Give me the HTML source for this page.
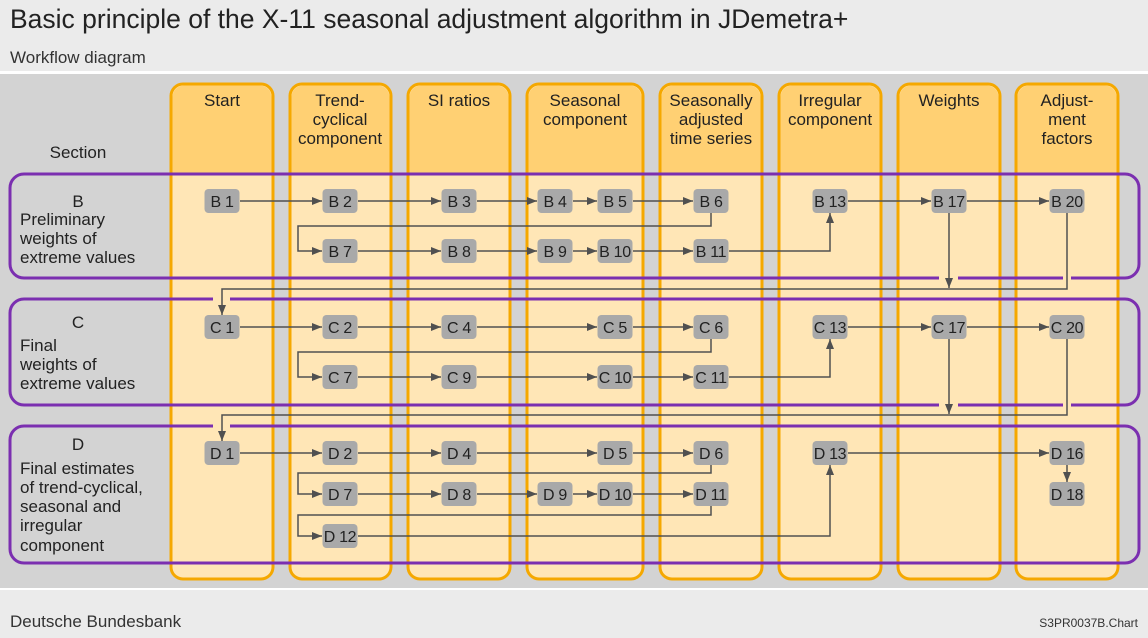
<!DOCTYPE html>
<html><head><meta charset="utf-8"><style>
body{margin:0;background:#ebebeb;}
svg{display:block;font-family:"Liberation Sans",sans-serif;}
</style></head><body>
<svg width="1148" height="638" viewBox="0 0 1148 638" xmlns="http://www.w3.org/2000/svg">
<defs>
<marker id="a" markerWidth="11" markerHeight="9" refX="10" refY="4" orient="auto" markerUnits="userSpaceOnUse"><path d="M0,0 L10,4 L0,8 z" fill="#505050"/></marker>
</defs>
<rect x="0" y="0" width="1148" height="638" fill="#ebebeb"/>
<text x="10" y="28" font-size="26.5" fill="#222">Basic principle of the X-11 seasonal adjustment algorithm in JDemetra+</text>
<text x="10" y="63" font-size="17" fill="#333">Workflow diagram</text>
<rect x="0" y="71" width="1148" height="3" fill="#fff"/>
<rect x="0" y="74" width="1148" height="514" fill="#d3d3d3"/>
<rect x="0" y="588" width="1148" height="2" fill="#fff"/>
<text x="10" y="627" font-size="17" fill="#333">Deutsche Bundesbank</text>
<text x="1138" y="627" font-size="12" fill="#333" text-anchor="end">S3PR0037B.Chart</text>

<g stroke="#f5a800" stroke-width="3">
<g fill="#ffe6b6">
<rect x="171" y="84" width="102" height="495" rx="12"/>
<rect x="290" y="84" width="101" height="495" rx="12"/>
<rect x="408" y="84" width="102" height="495" rx="12"/>
<rect x="527" y="84" width="116" height="495" rx="12"/>
<rect x="660" y="84" width="102" height="495" rx="12"/>
<rect x="779" y="84" width="102" height="495" rx="12"/>
<rect x="898" y="84" width="102" height="495" rx="12"/>
<rect x="1016" y="84" width="102" height="495" rx="12"/>
</g>
</g>
<g fill="#ffd073">
<path d="M172.5,174 V97 a11.5,11.5 0 0 1 11.5,-11.5 H260 a11.5,11.5 0 0 1 11.5,11.5 V174z"/>
<path d="M291.5,174 V97 a11.5,11.5 0 0 1 11.5,-11.5 H378 a11.5,11.5 0 0 1 11.5,11.5 V174z"/>
<path d="M409.5,174 V97 a11.5,11.5 0 0 1 11.5,-11.5 H497 a11.5,11.5 0 0 1 11.5,11.5 V174z"/>
<path d="M528.5,174 V97 a11.5,11.5 0 0 1 11.5,-11.5 H630 a11.5,11.5 0 0 1 11.5,11.5 V174z"/>
<path d="M661.5,174 V97 a11.5,11.5 0 0 1 11.5,-11.5 H749 a11.5,11.5 0 0 1 11.5,11.5 V174z"/>
<path d="M780.5,174 V97 a11.5,11.5 0 0 1 11.5,-11.5 H868 a11.5,11.5 0 0 1 11.5,11.5 V174z"/>
<path d="M899.5,174 V97 a11.5,11.5 0 0 1 11.5,-11.5 H987 a11.5,11.5 0 0 1 11.5,11.5 V174z"/>
<path d="M1017.5,174 V97 a11.5,11.5 0 0 1 11.5,-11.5 H1105 a11.5,11.5 0 0 1 11.5,11.5 V174z"/>
</g>

<g font-size="17" fill="#222" text-anchor="middle">
<text x="222" y="106">Start</text>
<text x="340" y="106">Trend-</text><text x="340" y="125">cyclical</text><text x="340" y="144">component</text>
<text x="459" y="106">SI ratios</text>
<text x="585" y="106">Seasonal</text><text x="585" y="125">component</text>
<text x="711" y="106">Seasonally</text><text x="711" y="125">adjusted</text><text x="711" y="144">time series</text>
<text x="830" y="106">Irregular</text><text x="830" y="125">component</text>
<text x="949" y="106">Weights</text>
<text x="1067" y="106">Adjust-</text><text x="1067" y="125">ment</text><text x="1067" y="144">factors</text>
<text x="78" y="158">Section</text>
<text x="78" y="207">B</text>
<text x="78" y="328">C</text>
<text x="78" y="450">D</text>
</g>
<g font-size="17" fill="#222">
<text x="20" y="225">Preliminary</text><text x="20" y="244">weights of</text><text x="20" y="263">extreme values</text>
<text x="20" y="351">Final</text><text x="20" y="370">weights of</text><text x="20" y="389">extreme values</text>
<text x="20" y="474">Final estimates</text><text x="20" y="493">of trend-cyclical,</text><text x="20" y="512">seasonal and</text><text x="20" y="531">irregular</text><text x="20" y="551">component</text>
</g>

<g fill="none" stroke="#7b2fb0" stroke-width="3">
<rect x="10" y="174" width="1129" height="104" rx="14"/>
<rect x="10" y="299" width="1129" height="106" rx="14"/>
<rect x="10" y="426" width="1129" height="137" rx="14"/>
</g>
<g fill="#ffe6b6">
<rect x="939" y="275" width="19" height="6"/>
<rect x="1063" y="275" width="8" height="6"/>
<rect x="213" y="296" width="17" height="6"/>
<rect x="939" y="402" width="19" height="6"/>
<rect x="1063" y="402" width="8" height="6"/>
<rect x="213" y="423" width="17" height="6"/>
</g>

<g fill="none" stroke="#505050" stroke-width="1.5" marker-end="url(#a)">
<path d="M240 201H322"/><path d="M358 201H441"/><path d="M477 201H537"/><path d="M573 201H597"/><path d="M633 201H693"/>
<path d="M711 213V226H298V251H322"/>
<path d="M358 251H441"/><path d="M477 251H537"/><path d="M573 251H597"/><path d="M633 251H693"/>
<path d="M729 251H830V213"/>
<path d="M848 201H931"/><path d="M967 201H1049"/>
<path d="M949 213V288"/>
<path d="M1067 213V289H222V315"/>

<path d="M240 327H322"/><path d="M358 327H441"/><path d="M477 327H597"/><path d="M633 327H693"/>
<path d="M711 339V352H298V377H322"/>
<path d="M358 377H441"/><path d="M477 377H597"/><path d="M633 377H693"/>
<path d="M729 377H830V339"/>
<path d="M848 327H931"/><path d="M967 327H1049"/>
<path d="M949 339V414"/>
<path d="M1067 339V415H222V441"/>

<path d="M240 453H322"/><path d="M358 453H441"/><path d="M477 453H597"/><path d="M633 453H693"/>
<path d="M711 465V473H298V494H322"/>
<path d="M358 494H441"/><path d="M477 494H537"/><path d="M573 494H597"/><path d="M633 494H693"/>
<path d="M711 506V515H298V536H322"/>
<path d="M358 536H830V465"/>
<path d="M848 453H1049"/>
<path d="M1067 465V482"/>
</g>

<g fill="#a9a9a9">
<rect x="204.5" y="189" width="35" height="24" rx="4"/>
<rect x="322.5" y="189" width="35" height="24" rx="4"/>
<rect x="441.5" y="189" width="35" height="24" rx="4"/>
<rect x="537.5" y="189" width="35" height="24" rx="4"/>
<rect x="597.5" y="189" width="35" height="24" rx="4"/>
<rect x="693.5" y="189" width="35" height="24" rx="4"/>
<rect x="812.5" y="189" width="35" height="24" rx="4"/>
<rect x="931.5" y="189" width="35" height="24" rx="4"/>
<rect x="1049.5" y="189" width="35" height="24" rx="4"/>
<rect x="322.5" y="239" width="35" height="24" rx="4"/>
<rect x="441.5" y="239" width="35" height="24" rx="4"/>
<rect x="537.5" y="239" width="35" height="24" rx="4"/>
<rect x="597.5" y="239" width="35" height="24" rx="4"/>
<rect x="693.5" y="239" width="35" height="24" rx="4"/>

<rect x="204.5" y="315" width="35" height="24" rx="4"/>
<rect x="322.5" y="315" width="35" height="24" rx="4"/>
<rect x="441.5" y="315" width="35" height="24" rx="4"/>
<rect x="597.5" y="315" width="35" height="24" rx="4"/>
<rect x="693.5" y="315" width="35" height="24" rx="4"/>
<rect x="812.5" y="315" width="35" height="24" rx="4"/>
<rect x="931.5" y="315" width="35" height="24" rx="4"/>
<rect x="1049.5" y="315" width="35" height="24" rx="4"/>
<rect x="322.5" y="365" width="35" height="24" rx="4"/>
<rect x="441.5" y="365" width="35" height="24" rx="4"/>
<rect x="597.5" y="365" width="35" height="24" rx="4"/>
<rect x="693.5" y="365" width="35" height="24" rx="4"/>

<rect x="204.5" y="441" width="35" height="24" rx="4"/>
<rect x="322.5" y="441" width="35" height="24" rx="4"/>
<rect x="441.5" y="441" width="35" height="24" rx="4"/>
<rect x="597.5" y="441" width="35" height="24" rx="4"/>
<rect x="693.5" y="441" width="35" height="24" rx="4"/>
<rect x="812.5" y="441" width="35" height="24" rx="4"/>
<rect x="1049.5" y="441" width="35" height="24" rx="4"/>
<rect x="322.5" y="482" width="35" height="24" rx="4"/>
<rect x="441.5" y="482" width="35" height="24" rx="4"/>
<rect x="537.5" y="482" width="35" height="24" rx="4"/>
<rect x="597.5" y="482" width="35" height="24" rx="4"/>
<rect x="693.5" y="482" width="35" height="24" rx="4"/>
<rect x="1049.5" y="482" width="35" height="24" rx="4"/>
<rect x="322.5" y="524" width="35" height="24" rx="4"/>
</g>

<g font-size="16" fill="#222" text-anchor="middle" letter-spacing="-0.3">
<text x="222" y="207">B 1</text><text x="340" y="207">B 2</text><text x="459" y="207">B 3</text><text x="555" y="207">B 4</text><text x="615" y="207">B 5</text><text x="711" y="207">B 6</text><text x="830" y="207">B 13</text><text x="949" y="207">B 17</text><text x="1067" y="207">B 20</text>
<text x="340" y="257">B 7</text><text x="459" y="257">B 8</text><text x="555" y="257">B 9</text><text x="615" y="257">B 10</text><text x="711" y="257">B 11</text>
<text x="222" y="333">C 1</text><text x="340" y="333">C 2</text><text x="459" y="333">C 4</text><text x="615" y="333">C 5</text><text x="711" y="333">C 6</text><text x="830" y="333">C 13</text><text x="949" y="333">C 17</text><text x="1067" y="333">C 20</text>
<text x="340" y="383">C 7</text><text x="459" y="383">C 9</text><text x="615" y="383">C 10</text><text x="711" y="383">C 11</text>
<text x="222" y="459">D 1</text><text x="340" y="459">D 2</text><text x="459" y="459">D 4</text><text x="615" y="459">D 5</text><text x="711" y="459">D 6</text><text x="830" y="459">D 13</text><text x="1067" y="459">D 16</text>
<text x="340" y="500">D 7</text><text x="459" y="500">D 8</text><text x="555" y="500">D 9</text><text x="615" y="500">D 10</text><text x="711" y="500">D 11</text><text x="1067" y="500">D 18</text>
<text x="340" y="542">D 12</text>
</g>
</svg>
</body></html>
